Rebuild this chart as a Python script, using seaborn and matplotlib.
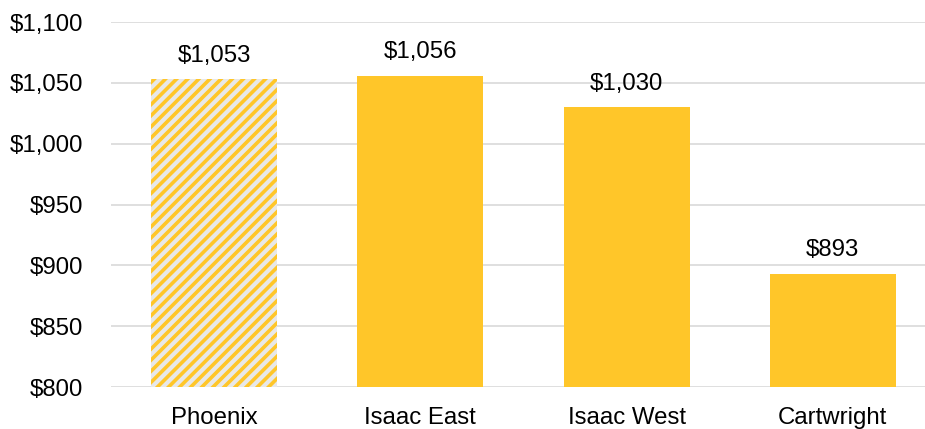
import matplotlib
matplotlib.use("Agg")
import matplotlib.pyplot as plt
import seaborn as sns
import pandas as pd

categories = ["Phoenix", "Isaac East", "Isaac West", "Cartwright"]
values = [1053, 1056, 1030, 893]
yticks = [800, 850, 900, 950, 1000, 1050, 1100]

YELLOW = "#FFC629"
HATCH_BG = "#E8E8E8"
GRID = "#D9D9D9"

sns.set_theme(style="white")
plt.rcParams["font.family"] = ["Liberation Sans", "DejaVu Sans"]
plt.rcParams["hatch.linewidth"] = 2.6

df = pd.DataFrame({"cat": categories, "val": values})

fig = plt.figure(figsize=(9.25, 4.29), dpi=100)
ax = fig.add_axes([111 / 925, 42 / 429, 825 / 925, 365 / 429])
ax.set_axisbelow(True)
ax.yaxis.grid(True, color=GRID, linewidth=1.2)

sns.barplot(data=df, x="cat", y="val", order=categories, color=YELLOW,
            saturation=1, width=0.61, ax=ax, linewidth=0)

p0 = ax.patches[0]
p0.set_facecolor(HATCH_BG)
p0.set_edgecolor(YELLOW)
p0.set_hatch("///")
p0.set_linewidth(0)

FS = 17.3
for p, v in zip(ax.patches, values):
    ax.annotate(f"${v:,}", (p.get_x() + p.get_width() / 2, v),
                xytext=(0, 9), textcoords="offset points",
                ha="center", va="bottom", fontsize=FS, color="black")

ax.set_ylim(800, 1100)
ax.set_yticks(yticks)
ax.set_yticklabels([f"${t:,}" for t in yticks])
ax.set_xlim(-0.5, len(categories) - 0.5)
ax.set_xlabel("")
ax.set_ylabel("")
for s in ax.spines.values():
    s.set_visible(False)
ax.tick_params(axis="y", length=0, pad=20, labelsize=FS, labelcolor="black")
ax.tick_params(axis="x", length=0, pad=14.5, labelsize=FS, labelcolor="black")

fig.savefig("out.png", dpi=100)
